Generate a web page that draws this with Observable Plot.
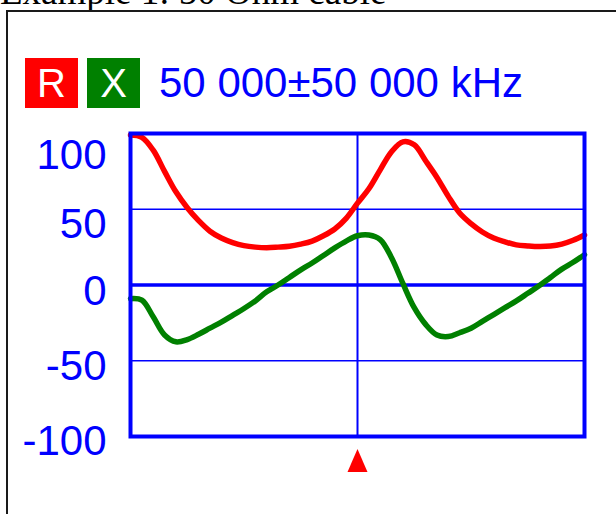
<!DOCTYPE html>
<html>
<head>
<meta charset="utf-8">
<script src="https://cdn.jsdelivr.net/npm/d3@7"></script>
<script src="https://cdn.jsdelivr.net/npm/@observablehq/plot@0.6"></script>
<style>
  html, body { margin: 0; padding: 0; background: #fff; }
  body { width: 616px; height: 514px; overflow: hidden; position: relative; }
  #title { position: absolute; left: 0; top: -29px; font: 37px "Liberation Serif", "Times New Roman", serif; color: #000; white-space: nowrap; line-height: 42px; }
  #border { position: absolute; left: 6px; top: 10px; width: 700px; height: 600px; border-left: 2px solid #1a1a1a; border-top: 2px solid #1a1a1a; box-sizing: border-box; }
  #legend { position: absolute; left: 25px; top: 58px; height: 50px; display: flex; align-items: flex-start; }
  .key { width: 53px; height: 50px; line-height: 50px; text-align: center; color: #fff; font: 40px "Liberation Sans", Arial, sans-serif; line-height: 50px; margin-right: 9px; }
  #freq { font: 42px "Liberation Sans", Arial, sans-serif; line-height: 50px; color: #0000ff; margin-left: 10px; white-space: nowrap; }
  #chart { position: absolute; left: 0; top: 115px; }
</style>
</head>
<body>
<div id="title"></div>
<div id="border"></div>
<div id="legend"></div>
<div id="chart"></div>
<script>
// ---- data ----
const titleText = "Example 1: 50 Ohm cable";
const seriesNames = ["R", "X"];
const centerKHz = 50000;
const spanKHz = 50000;
const freqKHz = [0, 2500, 5000, 7500, 10000, 12500, 15000, 17500, 20000, 22500,
  25000, 27500, 30000, 32500, 35000, 37500, 40000, 42500, 45000, 47500,
  50000, 52500, 55000, 57500, 60000, 62500, 65000, 67500, 70000, 72500,
  75000, 77500, 80000, 82500, 85000, 87500, 90000, 92500, 95000, 97500, 100000];
const resistance = [99, 97.5, 89, 75, 61.5, 51, 42.5, 35.5, 31, 28,
  26, 25, 24.6, 25, 25.6, 27, 29, 32.5, 37, 44,
  54, 63.5, 76, 88, 94.5, 92.5, 82, 71, 58.5, 47.5,
  40.5, 35, 31, 28.5, 26.5, 25.8, 25.4, 25.7, 27, 29.5, 33];
const reactance = [-9, -10, -21, -33, -37.5, -36, -32.5, -28.5, -24.5, -20,
  -15.5, -10.5, -4.5, 0, 5, 10, 14.5, 19.5, 24.5, 29,
  32.5, 33, 30, 18, 1, -15, -26, -33, -34, -31.5,
  -28.5, -24, -19.5, -15, -10.5, -5.5, -0.5, 5, 10.5, 15, 20];
const yTicks = [100, 50, 0, -50, -100];
const gridY = [50, -50];
const zeroLine = [0];
const markerKHz = [centerKHz];

// ---- styles ----
const colors = {R: "#ff0000", X: "#008000"};
const blue = "#0000ff";
const labelNudge = {"100": 22, "50": 15, "0": 7, "-50": 6, "-100": 5};

// ---- header ----
document.getElementById("title").textContent = titleText;
const legend = document.getElementById("legend");
for (const name of seriesNames) {
  const k = document.createElement("div");
  k.className = "key";
  k.style.background = colors[name];
  k.textContent = name;
  legend.appendChild(k);
}
const fmt = (v) => d3.format(",")(v).replace(/,/g, " ");
const fq = document.createElement("div");
fq.id = "freq";
fq.textContent = `${fmt(centerKHz)}±${fmt(spanKHz)} kHz`;
legend.appendChild(fq);

// ---- chart ----
const rows = freqKHz.map((f, i) => ({f, R: resistance[i], X: reactance[i]}));

const triangle = {
  draw(ctx, size) {
    const w = Math.sqrt(size);
    const h = w * 1.15;
    ctx.moveTo(0, -h / 2);
    ctx.lineTo(w / 2, h / 2);
    ctx.lineTo(-w / 2, h / 2);
    ctx.closePath();
  }
};

const chart = Plot.plot({
  width: 616,
  height: 399,
  marginTop: 18,
  marginBottom: 78,
  marginLeft: 130,
  marginRight: 32,
  style: {background: "transparent", overflow: "visible", fontFamily: "'Liberation Sans', Arial, sans-serif"},
  x: {domain: [0, 100000], axis: null},
  y: {domain: [-100, 100]},
  marks: [
    ...yTicks.map((t) => Plot.axisY({
      ticks: [t],
      tickSize: 0,
      tickPadding: 24,
      tickFormat: (d) => String(d),
      fontSize: 42,
      fill: blue,
      dy: labelNudge[String(t)],
      label: null
    })),
    Plot.ruleY(gridY, {stroke: blue, strokeWidth: 1.6}),
    Plot.ruleY(zeroLine, {stroke: blue, strokeWidth: 3.5}),
    Plot.ruleX(markerKHz, {stroke: blue, strokeWidth: 2}),
    Plot.line(rows, {x: "f", y: "R", stroke: colors.R, strokeWidth: 5.5, curve: "catmull-rom"}),
    Plot.line(rows, {x: "f", y: "X", stroke: colors.X, strokeWidth: 5.5, curve: "catmull-rom"}),
    Plot.frame({stroke: blue, strokeWidth: 4}),
    Plot.dot(markerKHz, {x: (d) => d, y: () => -100, dy: 24, r: 11.3, symbol: triangle, fill: colors.R, stroke: null})
  ]
});
document.getElementById("chart").appendChild(chart);
</script>
</body>
</html>
